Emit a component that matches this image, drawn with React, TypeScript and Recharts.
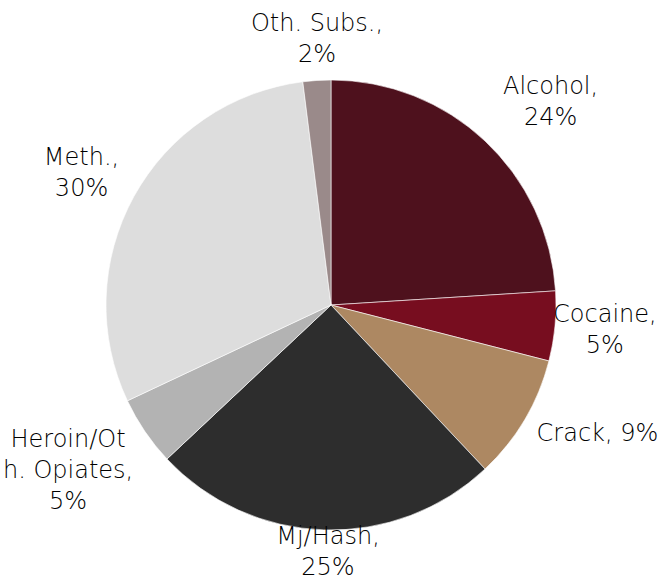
import { PieChart, Pie, Cell } from "recharts";

const CATEGORIES = ["Alcohol", "Cocaine", "Crack", "Mj/Hash", "Heroin/Oth. Opiates", "Meth.", "Oth. Subs."];
const SHARES = [24, 5, 9, 25, 5, 30, 2];
const SLICE_COLORS = ["#4e111d", "#770d1f", "#ad8862", "#2d2d2d", "#b3b3b3", "#dddddd", "#9a8a8a"];

// label text as Excel wrapped it
const LABEL_LINES = [
  ["Alcohol,", "24%"],
  ["Cocaine,", "5%"],
  ["Crack, 9%"],
  ["Mj/Hash,", "25%"],
  ["Heroin/Ot", "h. Opiates,", "5%"],
  ["Meth.,", "30%"],
  ["Oth. Subs.,", "2%"],
];
// nudges from the point just outside each slice
const LABEL_NUDGE = [[45, -18], [20, 1], [47, -2], [5, -8], [-52, 22], [-26, -10], [2, -12]];

const data = CATEGORIES.map((name, i) => ({ name, value: SHARES[i] }));

const RAD = Math.PI / 180;
const LINE_H = 31;

function renderLabel(props: any) {
  const { cx, cy, midAngle, outerRadius, index } = props;
  const r = outerRadius + 30;
  const x = cx + r * Math.cos(-midAngle * RAD) + LABEL_NUDGE[index][0];
  const y = cy + r * Math.sin(-midAngle * RAD) + LABEL_NUDGE[index][1];
  const lines = LABEL_LINES[index];
  return (
    <text x={x} y={y} textAnchor="middle" fill="#000000" fontSize={24} fontWeight={200} fontFamily="DejaVu Sans">
      {lines.map((ln, i) => (
        <tspan key={i} x={x} y={y + (i - (lines.length - 1) / 2) * LINE_H} dominantBaseline="central">
          {ln}
        </tspan>
      ))}
    </text>
  );
}

export default function App() {
  return (
    <div style={{ position: "absolute", left: 0, top: 0, width: 664, height: 584, background: "#fff", overflow: "hidden" }}>
      <PieChart width={664} height={584} margin={{ top: 0, right: 0, bottom: 0, left: 0 }}>
        <Pie
          data={data}
          dataKey="value"
          cx={331}
          cy={305}
          outerRadius={225}
          startAngle={90}
          endAngle={-270}
          stroke="#ffffff"
          strokeWidth={0.6}
          label={renderLabel}
          labelLine={false}
          isAnimationActive={false}
        >
          {data.map((d, i) => (
            <Cell key={d.name} fill={SLICE_COLORS[i]} />
          ))}
        </Pie>
      </PieChart>
    </div>
  );
}
